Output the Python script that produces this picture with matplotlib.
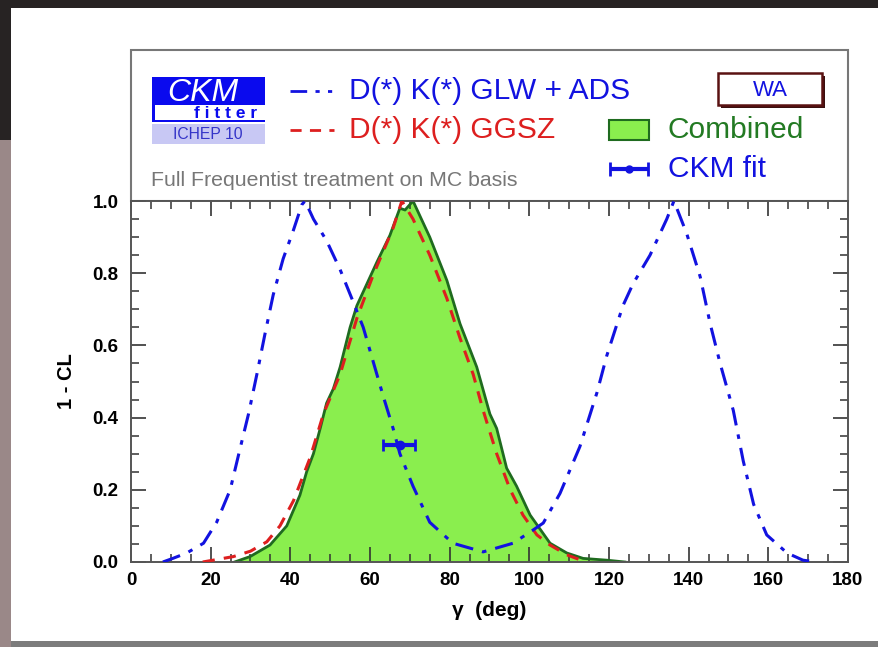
import matplotlib
matplotlib.use("Agg")
import matplotlib.pyplot as plt
from matplotlib.patches import Rectangle
from matplotlib.ticker import MultipleLocator
from matplotlib.lines import Line2D

plt.rcParams['font.family'] = ['Liberation Sans', 'DejaVu Sans']

# --- Data ---
# D(*) K(*) GLW + ADS (blue dash-dot)
glw_x = [8, 10.5, 14, 18.2, 21.5, 24.9, 27.4, 29.5, 31.6, 33.6, 35.7, 38.2, 40.8, 42.9, 43.7,
         45.8, 49.1, 52.5, 55.8, 58.3, 60.8, 63.3, 65.8, 67.5, 70.8, 75, 80.8, 88.4, 95.9,
         101, 103.5, 107.7, 112.7, 117, 119.4, 123.5, 126, 130.3, 134.5, 136.3, 139.5,
         142.9, 145.4, 147.9, 151.2, 153.7, 156.3, 159.6, 164.7, 168.7, 172]
glw_y = [0, 0.01, 0.025, 0.052, 0.11, 0.20, 0.315, 0.41, 0.52, 0.63, 0.74, 0.84, 0.92, 0.99, 1.0,
         0.95, 0.89, 0.81, 0.72, 0.65, 0.555, 0.46, 0.37, 0.30, 0.21, 0.11, 0.052, 0.028, 0.052,
         0.089, 0.108, 0.19, 0.32, 0.47, 0.57, 0.71, 0.77, 0.85, 0.95, 1.0, 0.91,
         0.79, 0.66, 0.55, 0.42, 0.28, 0.16, 0.075, 0.025, 0.005, 0]

# D(*) K(*) GGSZ (red dashed)
ggsz_x = [18, 20.6, 25.7, 30, 34.1, 37.4, 40.8, 45, 48.3, 52.5, 56.7, 60.8, 65.8, 68,
          70.8, 75, 79.3, 82.6, 85.9, 88.4, 91.8, 95.2, 98.4, 101.9, 105.2, 109.4, 113]
ggsz_y = [0, 0.005, 0.015, 0.03, 0.056, 0.10, 0.17, 0.29, 0.41, 0.52, 0.675, 0.795, 0.925, 1.0,
          0.95, 0.85, 0.73, 0.62, 0.52, 0.42, 0.30, 0.20, 0.13, 0.075, 0.047, 0.02, 0.005]

# Combined (green filled)
comb_x = [26, 29.9, 34.9, 39.1, 42.4, 44.1, 45.8, 47.5, 49.1, 50.8, 52.5, 55, 56.7, 59.2,
          61.7, 65, 67.5, 68.8, 70.8, 75, 79.3, 82.6, 86.8, 90.1, 91.8, 94.3, 96.8, 100.2,
          105.2, 109.4, 113.5, 119.5, 124]
comb_y = [0, 0.015, 0.047, 0.10, 0.185, 0.25, 0.30, 0.37, 0.44, 0.48, 0.54, 0.65, 0.71, 0.77,
          0.83, 0.905, 0.98, 0.975, 1.0, 0.90, 0.78, 0.66, 0.54, 0.41, 0.37, 0.26, 0.21, 0.13,
          0.052, 0.025, 0.01, 0.005, 0]

# CKM fit point
fit_x = 67.5
fit_y = 0.324
fit_err_lo = 4.2
fit_err_hi = 3.8

xticks = list(range(0, 181, 20))
yticks = [0.0, 0.2, 0.4, 0.6, 0.8, 1.0]

BLUE = '#1212e0'
RED = '#dd1f1f'
GREEN_FILL = '#8aee4e'
GREEN_EDGE = '#1f6b1f'

# --- Figure & background ---
fig = plt.figure(figsize=(8.79, 6.47), dpi=100)
fig.patch.set_facecolor('#272323')

bg = fig.add_axes([0, 0, 1, 1])
bg.set_xlim(0, 879)
bg.set_ylim(647, 0)
bg.axis('off')
bg.add_patch(Rectangle((0, 140), 11, 507, color='#9a8888', lw=0))
bg.add_patch(Rectangle((11, 8), 868, 633, color='white', lw=0))
bg.add_patch(Rectangle((11, 641), 868, 6, color='#7c7c7c', lw=0))

# legend panel
bg.add_patch(Rectangle((131, 50), 717, 151, fill=False, edgecolor='#777777', lw=1.5))

# CKMfitter logo
bg.add_patch(Rectangle((152, 77), 113, 28, color='#0a0aee', lw=0))
bg.text(203, 93, 'CKM', color='white', fontsize=23, style='italic', ha='center', va='center')
bg.add_patch(Rectangle((152, 105), 3, 17, color='#0a0aee', lw=0))
bg.add_patch(Rectangle((152, 119.5), 113, 2.5, color='#0a0aee', lw=0))
bg.text(257, 118.5, 'f i t t e r', color='#0a0aee', fontsize=12.5, fontweight='bold',
        ha='right', va='baseline')
bg.add_patch(Rectangle((152, 124), 113, 20, color='#c8c8f4', lw=0))
bg.text(208, 134.5, 'ICHEP 10', color='#3434c8', fontsize=11.3, ha='center', va='center')

# legend entries
bg.add_line(Line2D([290, 334], [91, 91], color=BLUE, lw=2, dashes=(6, 3, 1.5, 3, 1.5, 3)))
bg.text(349, 91, 'D(*) K(*) GLW + ADS', color=BLUE, fontsize=21.5, va='center')
bg.add_line(Line2D([290, 334], [130, 130], color=RED, lw=2, dashes=(4, 3)))
bg.text(349, 130, 'D(*) K(*) GGSZ', color=RED, fontsize=21.5, va='center')
bg.text(151, 181, 'Full Frequentist treatment on MC basis', color='#777777', fontsize=15.3,
        va='center')

bg.add_patch(Rectangle((721, 76), 104, 32, color='#3a1010', lw=0))
bg.add_patch(Rectangle((718, 73), 104, 32, facecolor='white', edgecolor='#5a1212', lw=1.8))
bg.text(770, 90, 'WA', color=BLUE, fontsize=16, ha='center', va='center')

bg.add_patch(Rectangle((609, 120), 40, 20, facecolor=GREEN_FILL, edgecolor=GREEN_EDGE, lw=1.5))
bg.text(668, 130, 'Combined', color='#237a23', fontsize=21.5, va='center')
bg.errorbar(629, 169, xerr=19, fmt='o', color=BLUE, ms=5, elinewidth=3, capsize=5, capthick=2)
bg.text(668, 169, 'CKM fit', color=BLUE, fontsize=21.5, va='center')

# --- Main plot ---
ax = fig.add_axes([131 / 879, 1 - 562 / 647, 717 / 879, 361 / 647])
ax.set_zorder(2)
ax.set_facecolor('white')

ax.fill_between(comb_x, comb_y, 0, color=GREEN_FILL, lw=0, zorder=1)
ax.plot(comb_x, comb_y, color=GREEN_EDGE, lw=2, zorder=2)
ax.plot(ggsz_x, ggsz_y, color=RED, lw=2.2, dashes=(4, 3), zorder=3)
ax.plot(glw_x, glw_y, color=BLUE, lw=2.2, dashes=(6, 3, 1.5, 3), zorder=3)
ax.errorbar(fit_x, fit_y, xerr=[[fit_err_lo], [fit_err_hi]], fmt='o', color=BLUE, ms=6,
            elinewidth=3, capsize=4, capthick=2, zorder=4)

ax.set_xlim(0, 180)
ax.set_ylim(0, 1)
ax.set_xticks(xticks)
ax.set_yticks(yticks)
ax.set_yticklabels([f'{v:.1f}' for v in yticks])
ax.xaxis.set_minor_locator(MultipleLocator(5))
ax.yaxis.set_minor_locator(MultipleLocator(0.05))
ax.tick_params(which='major', direction='in', top=True, right=True, length=11, width=1.2,
               color='#333333', labelsize=13.5, pad=7)
ax.tick_params(axis='y', which='major', pad=9)
ax.tick_params(which='minor', direction='in', top=True, right=True, length=5.5, width=1.1,
               color='#333333')
for lab in ax.get_xticklabels() + ax.get_yticklabels():
    lab.set_fontweight('bold')
for sp in ax.spines.values():
    sp.set_color('#555555')
    sp.set_linewidth(1.4)

ax.set_xlabel('γ  (deg)', fontsize=15, fontweight='bold', labelpad=9)
ax.set_ylabel('1 - CL', fontsize=14.5, fontweight='bold', labelpad=12)

fig.savefig('out.png', dpi=100, facecolor=fig.get_facecolor())
